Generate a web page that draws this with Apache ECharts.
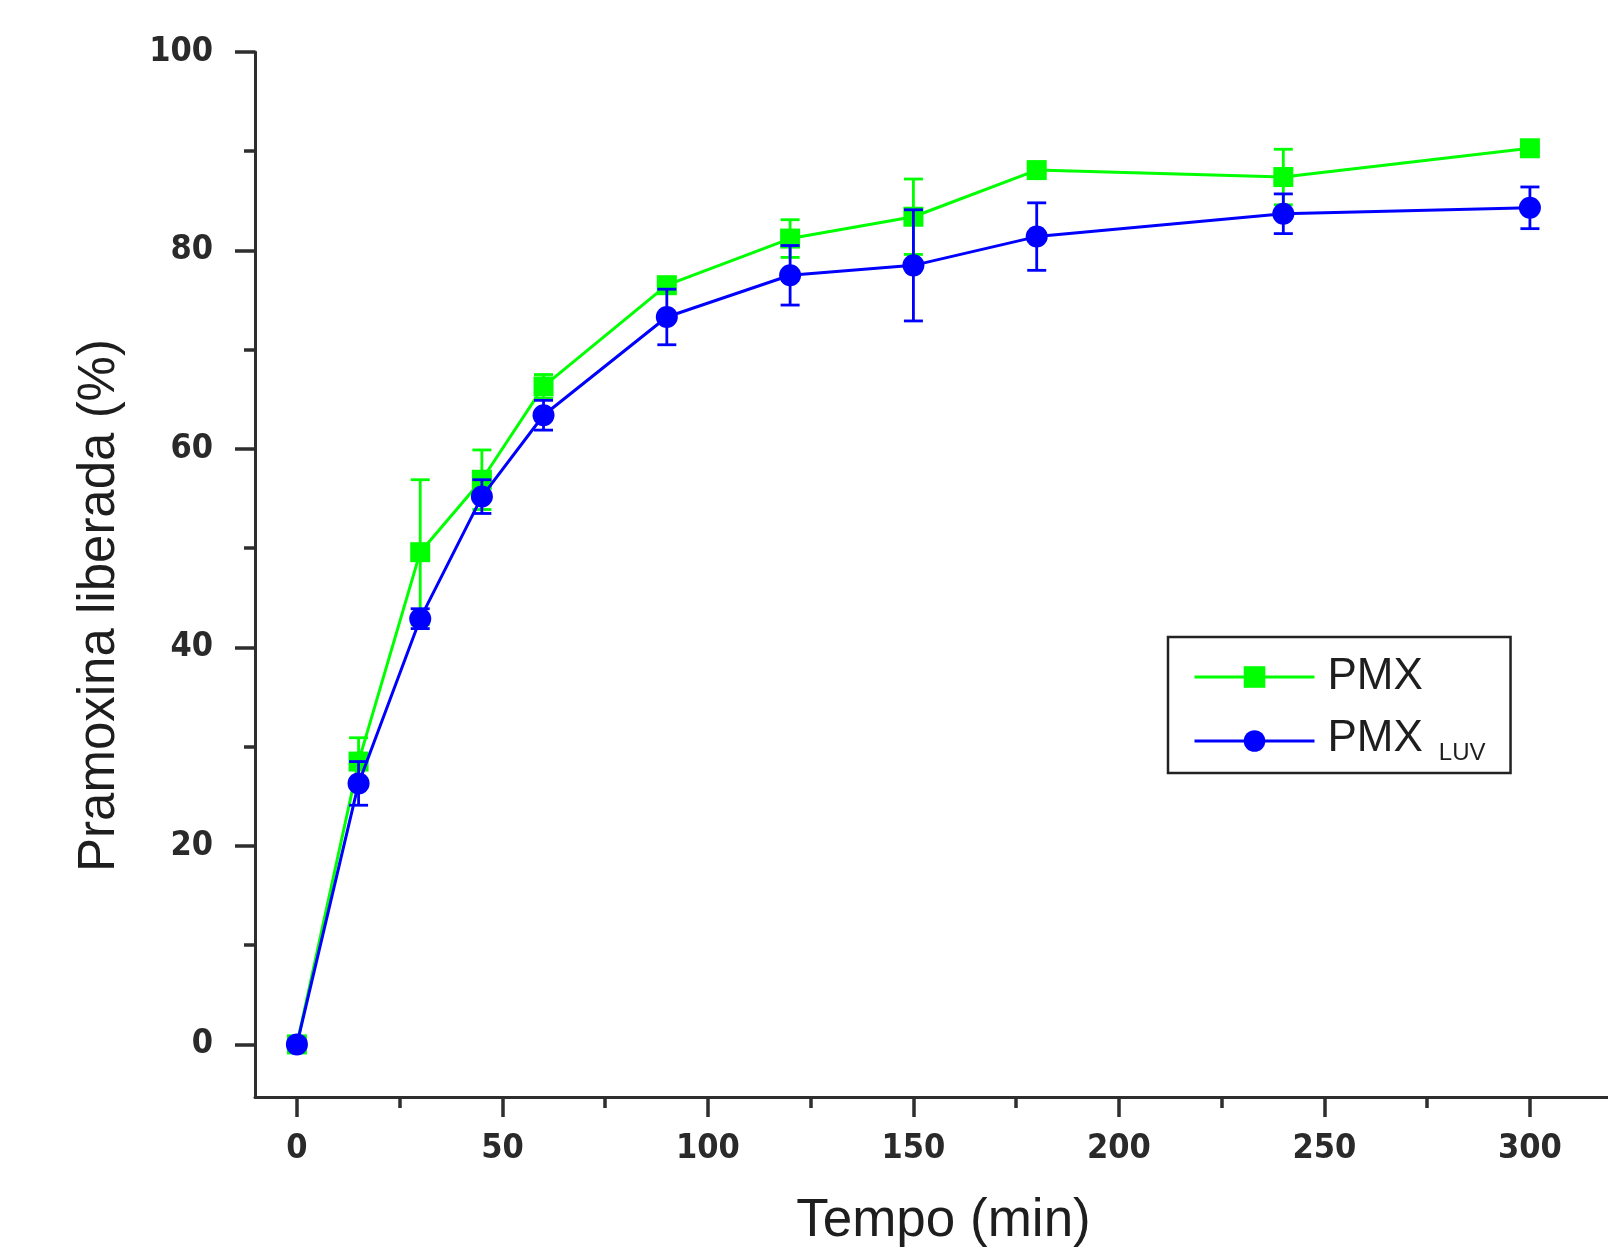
<!DOCTYPE html>
<html>
<head>
<meta charset="utf-8">
<script src="https://cdn.jsdelivr.net/npm/echarts@6/dist/echarts.min.js"></script>
<style>
html,body{margin:0;padding:0;background:#fff;}
#chart{width:1608px;height:1248px;}
</style>
</head>
<body>
<div id="chart"></div>
<script>
// ---- data ----
const time = [0, 15, 30, 45, 60, 90, 120, 150, 180, 240, 300];
const pmx = [0, 28.5, 49.6, 56.9, 66.3, 76.5, 81.2, 83.4, 88.1, 87.4, 90.3];
const pmxErr = [0, 2.4, 7.3, 3.0, 1.2, 0.8, 1.9, 3.8, 0.3, 2.8, 0.4];
const luv = [0, 26.3, 42.9, 55.2, 63.4, 73.3, 77.5, 78.5, 81.4, 83.7, 84.3];
const luvErr = [0, 2.2, 1.0, 1.7, 1.5, 2.8, 3.0, 5.6, 3.4, 2.0, 2.1];
const xMajor = [0, 50, 100, 150, 200, 250, 300];
const xMinor = [25, 75, 125, 175, 225, 275];
const yMajor = [0, 20, 40, 60, 80, 100];
const yMinor = [10, 30, 50, 70, 90];

const GREEN = '#00ff00';
const BLUE = '#0000ff';
const AXIS = '#2e2e2e';
const labelFont = '"DejaVu Sans Condensed", "DejaVu Sans"';
const titleFont = 'Liberation Sans';

function errItem(color) {
  return function (params, api) {
    const x = api.value(0);
    const lo = api.coord([x, api.value(1)]);
    const hi = api.coord([x, api.value(2)]);
    const w = 9.5;
    const st = { stroke: color, lineWidth: 2.8 };
    return {
      type: 'group',
      children: [
        { type: 'line', shape: { x1: lo[0], y1: lo[1], x2: hi[0], y2: hi[1] }, style: st },
        { type: 'line', shape: { x1: hi[0] - w, y1: hi[1], x2: hi[0] + w, y2: hi[1] }, style: st },
        { type: 'line', shape: { x1: lo[0] - w, y1: lo[1], x2: lo[0] + w, y2: lo[1] }, style: st }
      ]
    };
  };
}

const chart = echarts.init(document.getElementById('chart'), null, { renderer: 'canvas' });
const xMin = -10.2, xMax = 319, yMin = -5.3, yMax = 100;

const xBase = {
  type: 'value', min: xMin, max: xMax, gridIndex: 0, position: 'bottom', offset: 0,
  splitLine: { show: false }
};
const yBase = {
  type: 'value', min: yMin, max: yMax, gridIndex: 0, position: 'left', offset: 0,
  splitLine: { show: false }
};

chart.setOption({
  animation: false,
  backgroundColor: '#ffffff',
  grid: { left: 255, right: 0, top: 52, bottom: 151, containLabel: false, outerBoundsMode: 'none' },
  legend: {
    orient: 'vertical',
    left: 1168, top: 637,
    data: ['PMX', 'PMX LUV'],
    itemWidth: 120, itemHeight: 27, itemGap: 0,
    padding: [16, 25, 8, 25],
    borderColor: '#222', borderWidth: 2.5, borderRadius: 0,
    backgroundColor: '#fff',
    lineStyle: { width: 3 },
    formatter: function (name) {
      return name === 'PMX LUV' ? '{m|PMX}{sub|LUV}' : 'PMX';
    },
    textStyle: {
      fontFamily: titleFont, fontSize: 44, color: '#1e1e1e', lineHeight: 48,
      padding: [0, 0, 0, 8],
      rich: {
        m: { fontFamily: titleFont, fontSize: 44, color: '#1e1e1e', lineHeight: 48, verticalAlign: 'top' },
        sub: { fontFamily: titleFont, fontSize: 24, color: '#1e1e1e', lineHeight: 24, verticalAlign: 'bottom', padding: [40, 0, 0, 16] }
      }
    }
  },
  xAxis: [
    Object.assign({}, xBase, {
      name: 'Tempo (min)', nameLocation: 'middle', nameGap: 98,
      nameTextStyle: { fontFamily: titleFont, fontSize: 53, color: '#1e1e1e', padding: [0, 0, 0, 24] },
      axisLine: { show: true, onZero: false, lineStyle: { color: AXIS, width: 3 } },
      axisTick: { show: true, inside: false, length: 20, customValues: xMajor, lineStyle: { color: AXIS, width: 3.5 } },
      axisLabel: { show: true, customValues: xMajor, margin: 35, fontFamily: labelFont, fontWeight: 'bold', fontSize: 34, color: '#2a2a2a' }
    }),
    Object.assign({}, xBase, {
      axisLine: { show: false, onZero: false },
      axisTick: { show: true, inside: false, length: 11, customValues: xMinor, lineStyle: { color: AXIS, width: 3.5 } },
      axisLabel: { show: false }
    })
  ],
  yAxis: [
    Object.assign({}, yBase, {
      name: 'Pramoxina liberada (%)', nameLocation: 'middle', nameGap: 130, nameRotate: 90,
      nameTextStyle: { fontFamily: titleFont, fontSize: 51, color: '#1e1e1e', padding: [0, 62, 0, 0] },
      axisLine: { show: true, onZero: false, lineStyle: { color: AXIS, width: 3 } },
      axisTick: { show: true, inside: false, length: 20, customValues: yMajor, lineStyle: { color: AXIS, width: 3.5 } },
      axisLabel: { show: true, customValues: yMajor, margin: 42, fontFamily: labelFont, fontWeight: 'bold', fontSize: 34, color: '#2a2a2a' }
    }),
    Object.assign({}, yBase, {
      axisLine: { show: false, onZero: false },
      axisTick: { show: true, inside: false, length: 11, customValues: yMinor, lineStyle: { color: AXIS, width: 3.5 } },
      axisLabel: { show: false }
    })
  ],
  series: [
    {
      name: 'PMX', type: 'line', xAxisIndex: 0, yAxisIndex: 0,
      data: time.map((t, i) => [t, pmx[i]]),
      symbol: 'rect', symbolSize: 20,
      lineStyle: { color: GREEN, width: 3 },
      itemStyle: { color: GREEN },
      z: 2
    },
    {
      name: 'PMX err', type: 'custom', xAxisIndex: 0, yAxisIndex: 0,
      data: time.map((t, i) => [t, pmx[i] - pmxErr[i], pmx[i] + pmxErr[i]]),
      encode: { x: 0, y: [1, 2] },
      renderItem: errItem(GREEN),
      z: 2
    },
    {
      name: 'PMX LUV', type: 'line', xAxisIndex: 0, yAxisIndex: 0,
      data: time.map((t, i) => [t, luv[i]]),
      symbol: 'circle', symbolSize: 22,
      lineStyle: { color: BLUE, width: 3 },
      itemStyle: { color: BLUE },
      z: 3
    },
    {
      name: 'PMX LUV err', type: 'custom', xAxisIndex: 0, yAxisIndex: 0,
      data: time.map((t, i) => [t, luv[i] - luvErr[i], luv[i] + luvErr[i]]),
      encode: { x: 0, y: [1, 2] },
      renderItem: errItem(BLUE),
      z: 3
    }
  ]
});
</script>
</body>
</html>
